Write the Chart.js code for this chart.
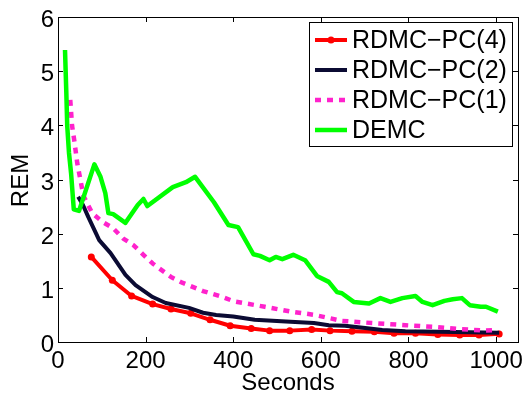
<!DOCTYPE html>
<html>
<head>
<meta charset="utf-8">
<script src="https://cdn.jsdelivr.net/npm/chart.js@4/dist/chart.umd.min.js"></script>
<style>
  html, body { margin:0; padding:0; background:#fff; }
</style>
</head>
<body>
<canvas id="remChart" width="525" height="394"></canvas>
<script>
/* REM vs time — four samplers */

const pc4Sec = [76,124,168,216,258,303,347,393,441,483,529,579,621,671,722,767,816,867,917,961,1007];
const pc4Rem = [1.57,1.14,0.85,0.70,0.61,0.53,0.41,0.30,0.25,0.21,0.21,0.23,0.21,0.20,0.19,0.16,0.16,0.14,0.13,0.13,0.15];

const pc2Sec = [46,57,69,94,120,154,177,216,246,299,331,361,400,449,520,584,618,655,701,740,793,871,1007];
const pc2Rem = [2.68,2.53,2.31,1.88,1.64,1.24,1.05,0.83,0.72,0.63,0.54,0.50,0.47,0.41,0.38,0.35,0.31,0.30,0.26,0.22,0.20,0.19,0.17];

const pc1Sec = [28,32,37,44,51,58,78,101,126,149,172,195,216,258,285,331,372,402,472,533,586,648,717,793,855,913,975,1002];
const pc1Rem = [4.47,4.0,3.73,3.3,3.0,2.7,2.38,2.22,2.10,1.91,1.79,1.61,1.45,1.20,1.09,0.94,0.84,0.75,0.65,0.56,0.50,0.39,0.35,0.31,0.28,0.24,0.21,0.22];

const demcSec = [16,19,21,25,30,36,48,83,97,108,115,126,154,182,195,204,262,292,313,356,389,411,446,461,483,497,512,537,564,591,618,637,648,675,710,736,759,786,816,832,855,882,901,922,940,965,977,1004];
const demcRem = [5.39,4.6,4.0,3.5,3.1,2.45,2.42,3.28,3.05,2.75,2.38,2.36,2.2,2.53,2.64,2.51,2.86,2.95,3.05,2.58,2.16,2.12,1.62,1.59,1.51,1.57,1.53,1.61,1.51,1.22,1.11,0.92,0.90,0.74,0.71,0.81,0.74,0.81,0.85,0.74,0.68,0.76,0.79,0.81,0.68,0.65,0.65,0.56];

const seriesNames = ['RDMC\u2212PC(4)', 'RDMC\u2212PC(2)', 'RDMC\u2212PC(1)', 'DEMC'];
const xTicks = [0,200,400,600,800,1000];
const yTicks = [0,1,2,3,4,5,6];
const xTitle = 'Seconds';
const yTitle = 'REM';

const FONT = '"Liberation Sans", Arial, Helvetica, sans-serif';
const pts = (xs, ys) => xs.map((x, i) => ({ x, y: ys[i] }));

// MATLAB style axes: frame, inward ticks on all four sides, labels, legend
const matlabBox = {
  id: 'matlabBox',
  afterDraw(chart) {
    const { ctx, chartArea: a, scales } = chart;
    ctx.save();
    ctx.strokeStyle = '#000';
    ctx.lineWidth = 1;
    ctx.setLineDash([]);
    ctx.strokeRect(Math.round(a.left) + 0.5, Math.round(a.top) + 0.5, Math.round(a.right - a.left), Math.round(a.bottom - a.top));
    const tl = 5;
    ctx.beginPath();
    xTicks.forEach(v => {
      const x = Math.round(scales.x.getPixelForValue(v)) + 0.5;
      ctx.moveTo(x, a.bottom); ctx.lineTo(x, a.bottom - tl);
      ctx.moveTo(x, a.top); ctx.lineTo(x, a.top + tl);
    });
    yTicks.forEach(v => {
      const y = Math.round(scales.y.getPixelForValue(v)) + 0.5;
      ctx.moveTo(a.left, y); ctx.lineTo(a.left + tl, y);
      ctx.moveTo(a.right, y); ctx.lineTo(a.right - tl, y);
    });
    ctx.stroke();

    // tick labels
    ctx.fillStyle = '#000';
    ctx.font = '24px ' + FONT;
    ctx.textBaseline = 'alphabetic';
    ctx.textAlign = 'center';
    xTicks.forEach(v => ctx.fillText(String(v), scales.x.getPixelForValue(v), a.bottom + 26));
    ctx.textAlign = 'right';
    yTicks.forEach(v => ctx.fillText(String(v), a.left - 4, scales.y.getPixelForValue(v) + 10));

    // axis titles
    ctx.textAlign = 'center';
    ctx.fillText(xTitle, (a.left + a.right) / 2, a.bottom + 48);
    ctx.save();
    ctx.translate(28, (a.top + a.bottom) / 2 + 1);
    ctx.rotate(-Math.PI / 2);
    ctx.fillText(yTitle, 0, 0);
    ctx.restore();

    // legend
    const lx = 309, ly = 22, lw = 203, lh = 124;
    ctx.fillStyle = '#fff';
    ctx.fillRect(lx, ly, lw, lh);
    ctx.strokeRect(lx + 0.5, ly + 0.5, lw, lh);
    ctx.font = '25px ' + FONT;
    ctx.textBaseline = 'middle';
    ctx.textAlign = 'left';
    chart.data.datasets.forEach((ds, i) => {
      const y = 40 + i * 30;
      ctx.strokeStyle = ds.borderColor;
      ctx.lineWidth = ds.borderWidth;
      ctx.setLineDash(ds.borderDash || []);
      ctx.beginPath();
      ctx.moveTo(315, y); ctx.lineTo(347, y);
      ctx.stroke();
      ctx.setLineDash([]);
      if (ds.pointRadius > 0) {
        ctx.fillStyle = ds.borderColor;
        ctx.beginPath();
        ctx.arc(331, y, ds.pointRadius, 0, Math.PI * 2);
        ctx.fill();
      }
      ctx.fillStyle = '#000';
      ctx.fillText(ds.label, 352, y + 1);
    });
    ctx.restore();
  }
};

new Chart(document.getElementById('remChart'), {
  type: 'line',
  data: {
    datasets: [
      { label: seriesNames[0], data: pts(pc4Sec, pc4Rem), borderColor: '#ff0000', backgroundColor: '#ff0000', borderWidth: 4, pointRadius: 3.5, pointBorderWidth: 0, order: 4 },
      { label: seriesNames[1], data: pts(pc2Sec, pc2Rem), borderColor: '#0b0b33', borderWidth: 4, pointRadius: 0, order: 3 },
      { label: seriesNames[2], data: pts(pc1Sec, pc1Rem), borderColor: '#ff22cc', borderWidth: 4.5, borderDash: [6, 6], pointRadius: 0, order: 2 },
      { label: seriesNames[3], data: pts(demcSec, demcRem), borderColor: '#00ff00', borderWidth: 4.5, pointRadius: 0, order: 1 }
    ]
  },
  options: {
    responsive: false,
    devicePixelRatio: 1,
    animation: false,
    layout: { padding: { top: 17, right: 7, left: 0, bottom: 0 } },
    elements: { line: { tension: 0, borderJoinStyle: 'round', borderCapStyle: 'butt' } },
    plugins: { legend: { display: false }, tooltip: { enabled: false } },
    scales: {
      x: {
        type: 'linear', min: 0, max: 1050,
        grid: { display: false }, border: { display: false },
        ticks: { display: false },
        afterBuildTicks: s => { s.ticks = xTicks.map(v => ({ value: v })); },
        afterFit: s => { s.height = 52; }
      },
      y: {
        min: 0, max: 6,
        grid: { display: false }, border: { display: false },
        ticks: { display: false },
        afterBuildTicks: s => { s.ticks = yTicks.map(v => ({ value: v })); },
        afterFit: s => { s.width = 58; }
      }
    }
  },
  plugins: [matlabBox]
});
</script>
</body>
</html>
